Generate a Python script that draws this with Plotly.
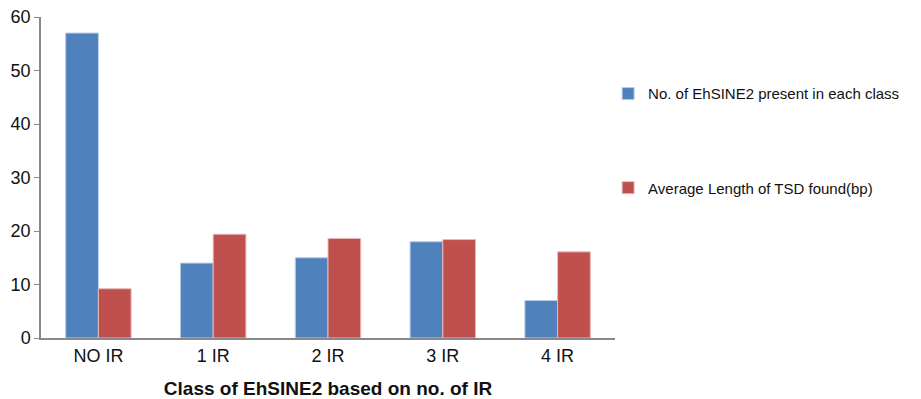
import plotly.graph_objects as go

categories = ["NO IR", "1 IR", "2 IR", "3 IR", "4 IR"]
count_ehsine2 = [57, 14, 15, 18, 7]
avg_tsd_length = [9.2, 19.4, 18.6, 18.4, 16.1]
series_names = ["No. of EhSINE2 present in each class", "Average Length of TSD found(bp)"]
y_ticks = [0, 10, 20, 30, 40, 50, 60]

fig = go.Figure()
fig.add_trace(go.Bar(x=categories, y=count_ehsine2, name=series_names[0],
                     marker=dict(color="#4F81BD", line=dict(color="#B9CDE5", width=1)),
                     legend="legend", showlegend=True))
fig.add_trace(go.Bar(x=categories, y=avg_tsd_length, name=series_names[1],
                     marker=dict(color="#C0504D", line=dict(color="#E6B9B8", width=1)),
                     legend="legend2", showlegend=True))

leg_common = dict(xanchor="left", yanchor="top", font=dict(size=15),
                  itemwidth=30, bgcolor="rgba(0,0,0,0)")

# page body has an 8px default margin, so the figure is sized/offset to compensate
fig.update_layout(
    width=913, height=391, showlegend=True,
    margin=dict(l=33, r=306, t=9, b=61, autoexpand=False),
    paper_bgcolor="white", plot_bgcolor="white",
    font=dict(family="Liberation Sans, Arial, sans-serif", color="#111"),
    barmode="group", bargap=0.43, bargroupgap=0,
    legend=dict(x=0.988, y=0.812, **leg_common),
    legend2=dict(x=0.988, y=0.519, **leg_common),
    xaxis=dict(showline=True, linecolor="#888", linewidth=1.5, ticks="outside",
               ticklen=1, tickcolor="rgba(0,0,0,0)", automargin=False,
               tickfont=dict(size=18), ticklabeloverflow="allow",
               title=dict(text="<b>Class of EhSINE2 based on no. of IR</b>",
                          font=dict(size=19), standoff=16)),
    yaxis=dict(range=[0, 60], tickvals=y_ticks, showline=True, linecolor="#888",
               linewidth=1.5, ticks="outside", ticklen=5, tickcolor="#888",
               automargin=False, ticklabeloverflow="allow",
               tickfont=dict(size=18), showgrid=False, zeroline=False),
)

fig.write_html("out.html")
